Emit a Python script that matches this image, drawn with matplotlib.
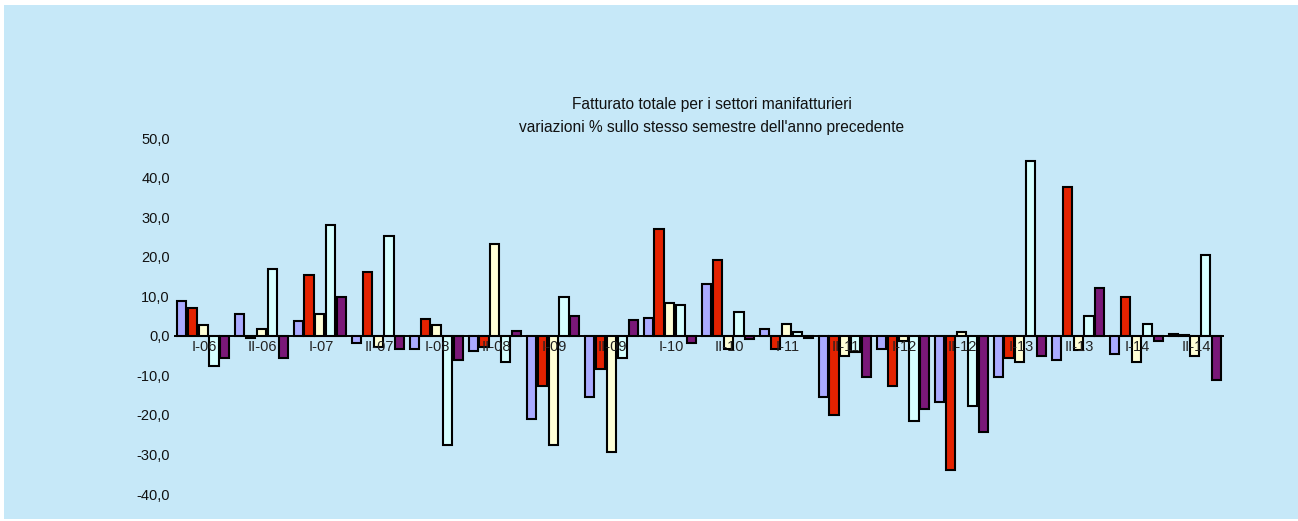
import numpy as np
import matplotlib
matplotlib.use("Agg")
import matplotlib.pyplot as plt
from matplotlib.patches import Rectangle
from matplotlib.ticker import FuncFormatter

plt.rcParams['font.family'] = ['Liberation Sans', 'DejaVu Sans']

categories = ["I-06", "II-06", "I-07", "II-07", "I-08", "II-08", "I-09", "II-09",
              "I-10", "II-10", "I-11", "II-11", "I-12", "II-12", "I-13", "II-13",
              "I-14", "II-14"]

serie_a = [8.8, 5.6, 3.7, -1.9, -3.4, -3.9, -21.0, -15.4, 4.6, 13.0, 1.8, -15.4,
           -3.4, -16.8, -10.3, -6.1, -4.7, 0.4]
serie_b = [6.9, -0.5, 15.3, 16.2, 4.2, -2.9, -12.6, -8.4, 26.9, 19.1, -3.3, -20.1,
           -12.6, -34.0, -5.6, 37.6, 9.8, 0.3]
serie_c = [2.8, 1.8, 5.6, -2.8, 2.8, 23.2, -27.5, -29.4, 8.3, -3.3, 2.9, -5.2,
           -1.3, 0.9, -6.6, -3.7, -6.6, -5.2]
serie_d = [-7.6, 16.8, 27.9, 25.1, -27.6, -6.6, 9.8, -5.6, 7.8, 6.1, 0.9, -4.2,
           -21.5, -17.8, 44.1, 5.1, 2.9, 20.5]
serie_e = [-5.7, -5.7, 9.8, -3.4, -6.2, 1.3, 5.1, 4.1, -1.9, -0.7, -0.5, -10.4,
           -18.6, -24.2, -5.2, 12.1, -1.4, -11.2]

series = [serie_a, serie_b, serie_c, serie_d, serie_e]
colors = ["#aaaaff", "#e42200", "#ffffd6", "#d6ffff", "#7a1878"]

title = ("Fatturato totale per i settori manifatturieri\n"
         "variazioni % sullo stesso semestre dell'anno precedente")

bg = "#c6e8f8"
fig = plt.figure(figsize=(12.98, 5.21), dpi=100, facecolor="white")
fig.patches.append(Rectangle((4 / 1298, 2 / 521), 1294 / 1298, 514 / 521,
                             transform=fig.transFigure, facecolor=bg,
                             edgecolor="none", zorder=-10))

ax = fig.add_axes([174 / 1298, 27 / 521, 1050 / 1298, 356 / 521])
ax.set_facecolor("none")
ax.set_zorder(5)

x = np.arange(len(categories))
slot = 0.186
width = 0.155
for i, (vals, col) in enumerate(zip(series, colors)):
    offs = (i - 2) * slot
    ax.bar(x + offs, vals, width=width, color=col, edgecolor="black",
           linewidth=1.5, zorder=3)

ax.axhline(0, color="black", linewidth=1.4, zorder=4)
ax.set_xlim(-0.5, len(categories) - 0.5)
ax.set_ylim(-40, 50)
ax.set_yticks(np.arange(-40, 51, 10))
ax.yaxis.set_major_formatter(FuncFormatter(lambda v, p: f"{v:.1f}".replace(".", ",")))
ax.tick_params(axis="y", length=0, pad=3, labelsize=10.5, colors="#111111")
ax.set_xticks([])
for s in ax.spines.values():
    s.set_visible(False)

for xi, lab in zip(x, categories):
    ax.text(xi + 0.02, -1.0, lab, ha="center", va="top", fontsize=10.5,
            color="#222222", zorder=5)

fig.text(712 / 1298, 1 - 116 / 521, title, ha="center", va="center",
         fontsize=11.2, linespacing=1.65, color="#111111")

fig.savefig("out.png", dpi=100, facecolor="white")
